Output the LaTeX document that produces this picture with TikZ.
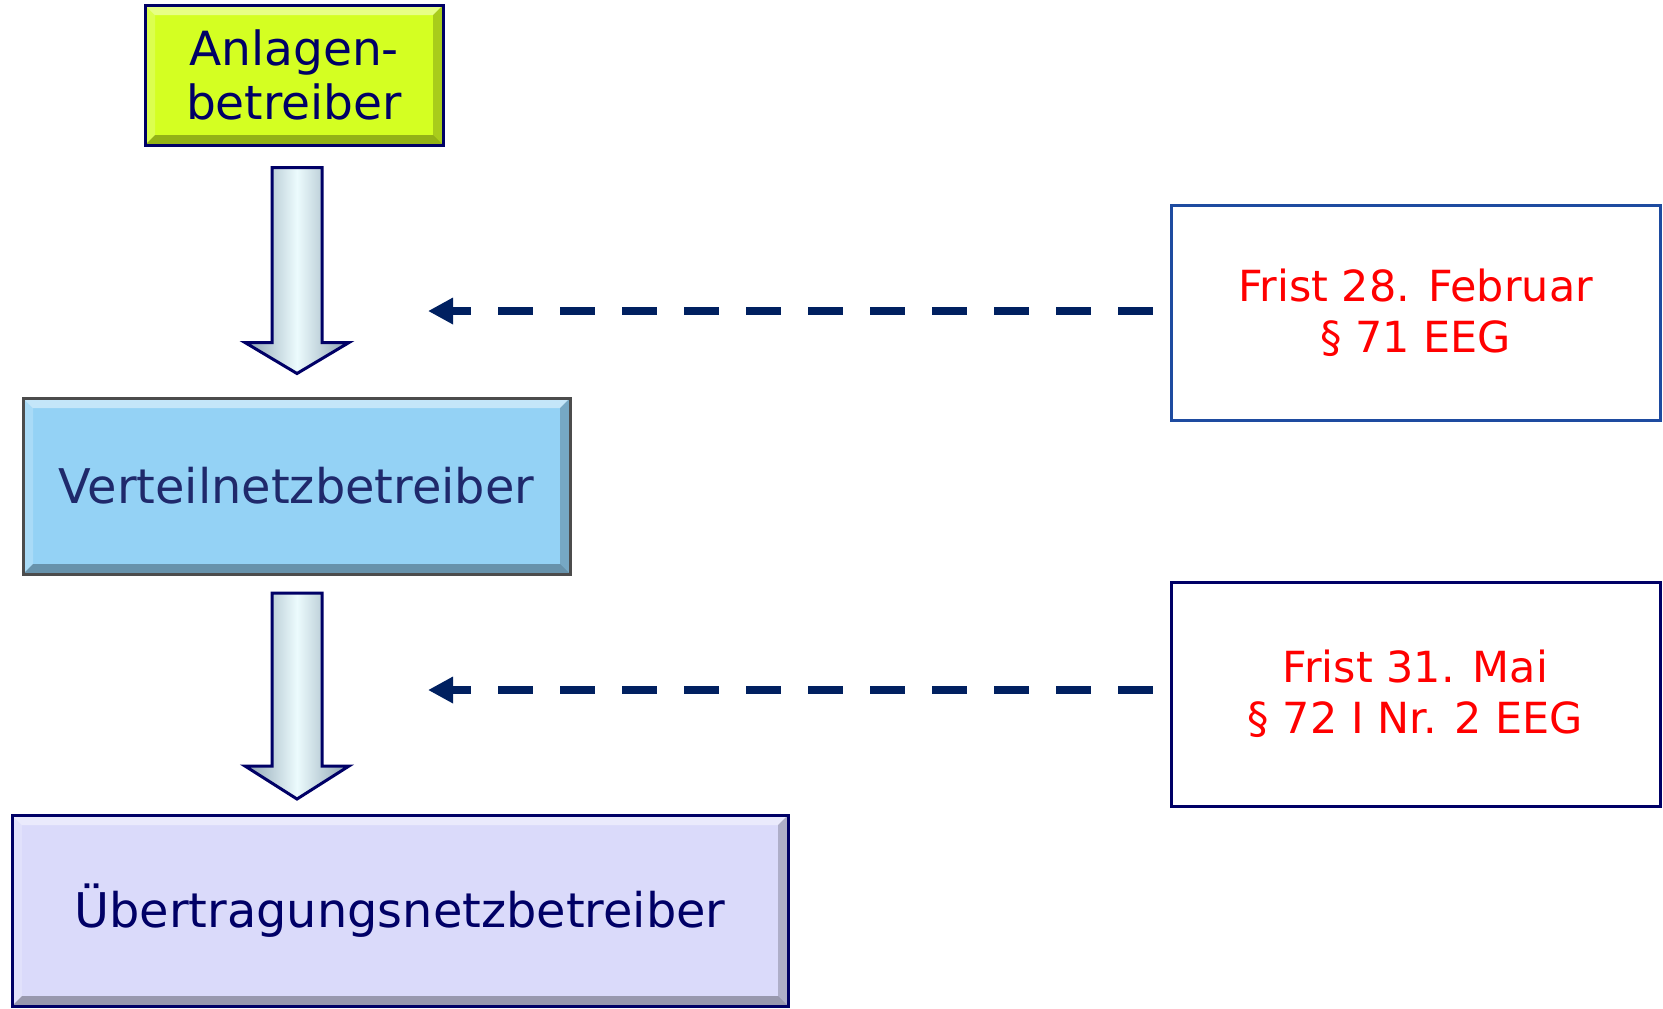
\documentclass[tikz,border=0pt]{standalone}
\usepackage{fontspec}
\setmainfont{DejaVu Sans}
\usetikzlibrary{arrows.meta,calc}

\definecolor{navy}{RGB}{0,0,102}
\definecolor{anlgelb}{RGB}{212,255,34}
\definecolor{vnbblau}{RGB}{148,210,245}
\definecolor{vnbtext}{RGB}{31,41,107}
\definecolor{uenblila}{RGB}{218,218,250}
\definecolor{pfeilblau}{RGB}{0,32,96}
\definecolor{rahmenblau}{RGB}{30,75,160}
\definecolor{schaftrand}{RGB}{140,162,178}
\definecolor{schaftmitte}{RGB}{236,251,253}

\tikzset{
  bevel/.style={path picture={
      \coordinate (bvnw) at (path picture bounding box.north west);
      \coordinate (bvse) at (path picture bounding box.south east);
      \coordinate (bvne) at (bvnw -| bvse);
      \coordinate (bvsw) at (bvnw |- bvse);
      \fill[white,opacity=.45] (bvnw) -- (bvne) -- ($(bvne)+(-1mm,-1mm)$) -- ($(bvnw)+(1mm,-1mm)$) -- cycle;
      \fill[white,opacity=.2] (bvnw) -- ($(bvnw)+(1mm,-1mm)$) -- ($(bvsw)+(1mm,1mm)$) -- (bvsw) -- cycle;
      \fill[black,opacity=.3] (bvsw) -- ($(bvsw)+(1mm,1mm)$) -- ($(bvse)+(-1mm,1mm)$) -- (bvse) -- cycle;
      \fill[black,opacity=.2] (bvse) -- ($(bvse)+(-1mm,1mm)$) -- ($(bvne)+(-1mm,-1mm)$) -- (bvne) -- cycle;
  }},
  akteur/.style={draw=navy, line width=0.3mm, inner sep=0pt, align=center, bevel,
    font=\fontsize{13.4}{15.6}\selectfont},
  fristbox/.style={draw, line width=0.3mm, fill=white, text=red, align=center,
    font=\fontsize{12.2}{14.5}\selectfont},
  blockpfeil/.style={draw=navy, line width=0.3mm, line join=miter,
    left color=schaftrand, right color=schaftrand, middle color=schaftmitte},
  fristpfeil/.style={->, draw=pfeilblau, line width=0.85mm, dash pattern=on 3.5mm off 2.7mm,
    shorten <=1.7mm},
}

\begin{document}
\begin{tikzpicture}[x=0.1mm,y=-0.1mm,>={Triangle[length=2.5mm,width=2.5mm]}]
  \useasboundingbox (0,0) rectangle (1663,1008);

  % Akteure
  \node[akteur, fill=anlgelb, text=navy, minimum width=29.8mm, minimum height=14mm]
    (anl) at (294,75) {Anlagen-\\betreiber};
  \node[akteur, draw=black!70, fill=vnbblau, text=vnbtext, minimum width=54.7mm, minimum height=17.6mm,
    font=\fontsize{13.6}{16}\selectfont]
    (vnb) at (296.5,486) {Verteilnetzbetreiber};
  \node[akteur, fill=uenblila, text=navy, minimum width=77.6mm, minimum height=19.1mm,
    font=\fontsize{13.6}{16}\selectfont]
    (uenb) at (400,910.5) {Übertragungsnetzbetreiber};

  % Fristen
  \node[fristbox, draw=rahmenblau, minimum width=48.9mm, minimum height=21.5mm]
    (frist1) at (1415.5,313) {Frist 28. Februar\\§ 71 EEG};
  \node[fristbox, draw=navy, minimum width=48.9mm, minimum height=22.4mm]
    (frist2) at (1415.5,694) {Frist 31. Mai\\§ 72 I Nr. 2 EEG};

  % Blockpfeile
  \draw[blockpfeil] (anl.south) ++(-22,21) -- ++(50,0) -- ++(0,175) -- ++(27,0)
    -- ++(-52,31) -- ++(-52,-31) -- ++(27,0) -- cycle;
  \draw[blockpfeil] (vnb.south) ++(-24.5,17.5) -- ++(50,0) -- ++(0,173) -- ++(27,0)
    -- ++(-52,33) -- ++(-52,-33) -- ++(27,0) -- cycle;

  % gestrichelte Pfeile
  \coordinate (t1) at (428,311);
  \coordinate (t2) at (428,690);
  \draw[fristpfeil] (frist1.west |- t1) -- (t1);
  \draw[fristpfeil] (frist2.west |- t2) -- (t2);
\end{tikzpicture}
\end{document}
